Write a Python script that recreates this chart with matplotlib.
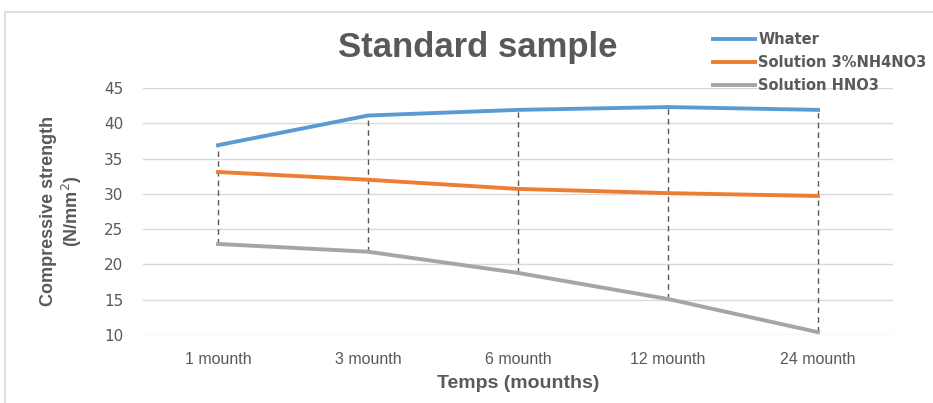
import matplotlib.pyplot as plt
from matplotlib.patches import Rectangle

categories = ['1 mounth', '3 mounth', '6 mounth', '12 mounth', '24 mounth']
whater = [36.9, 41.1, 41.9, 42.3, 41.9]
nh4no3 = [33.1, 32.0, 30.7, 30.1, 29.7]
hno3 = [22.9, 21.8, 18.8, 15.1, 10.4]
yticks = [10, 15, 20, 25, 30, 35, 40, 45]

plt.rcParams['font.family'] = ['Liberation Sans Narrow', 'Liberation Sans', 'DejaVu Sans']

fig = plt.figure(figsize=(9.33, 4.03), dpi=100)
fig.patches.append(Rectangle((5 / 933, -0.1), 1.0, 1 - 12 / 403 + 0.1, transform=fig.transFigure,
                             fill=False, edgecolor='#D9D9D9', linewidth=1.2))
ax = fig.add_axes([143 / 933, 1 - 335 / 403, 750 / 933, 247 / 403])

x = list(range(len(categories)))
# high-low lines
for xi, hi, lo in zip(x, whater, hno3):
    ax.plot([xi, xi], [lo, hi], color='#595959', linestyle=(0, (4, 3)), linewidth=1.0, zorder=2)

l1, = ax.plot(x, whater, color='#5B9BD5', linewidth=2.8, label='Whater', zorder=3)
l2, = ax.plot(x, nh4no3, color='#ED7D31', linewidth=2.8, label='Solution 3%NH4NO3', zorder=3)
l3, = ax.plot(x, hno3, color='#A5A5A5', linewidth=2.8, label='Solution HNO3', zorder=3)

ax.set_xlim(-0.5, len(categories) - 0.5)
ax.set_ylim(10, 45)
ax.set_yticks(yticks)
ax.set_xticks(x)
ax.set_xticklabels(categories, fontsize=11.5, color='#595959')
ax.set_yticklabels([str(v) for v in yticks], fontsize=11, color='#595959', family='DejaVu Sans')
ax.tick_params(length=0, pad=12)
ax.tick_params(axis='y', pad=14)
ax.grid(axis='y', color='#D9D9D9', linewidth=1)
ax.set_axisbelow(True)
for s in ax.spines.values():
    s.set_visible(False)

ax.set_xlabel('Temps (mounths)', fontsize=14, fontweight='bold', color='#595959', labelpad=6)
fig.text(62 / 933, 1 - 211 / 403, 'Compressive strength\n(N/mm$^2$)', rotation=90, ha='center', va='center',
         fontsize=13, fontweight='bold', color='#595959', linespacing=1.15)
fig.text(478 / 933, 1 - 48 / 403, 'Standard sample', ha='center', va='center',
         fontsize=25, fontweight='bold', color='#595959')

leg = fig.legend(handles=[l1, l2, l3], loc='upper left', bbox_to_anchor=(700 / 933, 1 - 19 / 403),
                 frameon=False, handlelength=2.9, handletextpad=0.2, labelspacing=0.55,
                 prop={'family': 'DejaVu Sans', 'weight': 'bold', 'size': 10.5})
for t in leg.get_texts():
    t.set_color('#595959')

fig.savefig('out.png', dpi=100)
